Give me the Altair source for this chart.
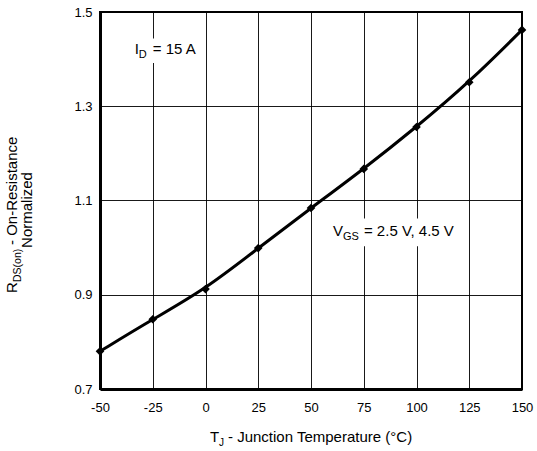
import altair as alt
import pandas as pd

# ---- data ----
temps = [-50, -25, 0, 25, 50, 75, 100, 125, 150]
rds_norm = [0.780, 0.848, 0.912, 0.999, 1.084, 1.167, 1.256, 1.351, 1.462]

x_ticks = [-50, -25, 0, 25, 50, 75, 100, 125, 150]
y_ticks = [0.7, 0.9, 1.1, 1.3, 1.5]

# annotation anchors (data coordinates) and their white backgrounds
id_anchor_T = [-33.5]
id_anchor_R = [1.411]
id_box_T = [-36.0, -2.0]
id_box_R = [1.444, 1.392]

vgs_anchor_T = [60.4]
vgs_anchor_R = [1.024]
vgs_box_T = [58.5, 122.0]
vgs_box_R = [1.062, 1.003]

FONT = "Liberation Sans"
W, H = 422, 377

df = pd.DataFrame({"T": temps, "R": rds_norm})

xs = alt.Scale(domain=[-50, 150], nice=False, zero=False)
ys = alt.Scale(domain=[0.7, 1.5], nice=False, zero=False)

x_axis = alt.Axis(values=x_ticks, title=None, grid=True, ticks=False,
                  labelExpr="replace(datum.label, '\u2212', '-')",
                  domainWidth=3, domainColor="black",
                  gridColor="black", gridWidth=1, gridOpacity=0.9,
                  labelFont=FONT, labelFontSize=13, labelColor="black",
                  labelPadding=12, labelFlush=False, labelOverlap=False)
y_axis = alt.Axis(values=y_ticks, title=None, grid=True, ticks=False, format=".1f",
                  domainWidth=3, domainColor="black",
                  gridColor="black", gridWidth=1, gridOpacity=0.9,
                  labelFont=FONT, labelFontSize=13, labelColor="black",
                  labelPadding=8, labelFlush=False, labelOverlap=False)


def X(field="T"):
    return alt.X(f"{field}:Q", scale=xs, axis=x_axis)


def Y(field="R"):
    return alt.Y(f"{field}:Q", scale=ys, axis=y_axis)


curve = alt.Chart(df).mark_line(color="black", strokeWidth=3, interpolate="basis").encode(
    x=X(), y=Y())
pts = alt.Chart(df).mark_point(shape="diamond", filled=True, color="black", size=75, opacity=1).encode(
    x=X(), y=Y())

# white boxes behind annotations
boxes = pd.DataFrame({
    "T": [id_box_T[0], vgs_box_T[0]], "T2": [id_box_T[1], vgs_box_T[1]],
    "R": [id_box_R[0], vgs_box_R[0]], "R2": [id_box_R[1], vgs_box_R[1]],
})
box_layer = alt.Chart(boxes).mark_rect(color="white").encode(
    x=X(), x2="T2:Q", y=Y(), y2="R2:Q")

id_df = pd.DataFrame({"T": id_anchor_T, "R": id_anchor_R})
vgs_df = pd.DataFrame({"T": vgs_anchor_T, "R": vgs_anchor_R})


def piece(data, text, size, dx=0, dy=0):
    return alt.Chart(data).mark_text(text=text, font=FONT, fontSize=size, color="black",
                                     align="left", baseline="alphabetic", dx=dx, dy=dy).encode(
        x=X(), y=Y())


ann = [
    piece(id_df, "I", 15, 0, 0),
    piece(id_df, "D", 11, 4, 4),
    piece(id_df, "= 15 A", 15, 18, 0),
    piece(vgs_df, "V", 15, 0, 0),
    piece(vgs_df, "GS", 11, 10, 4),
    piece(vgs_df, "= 2.5 V, 4.5 V", 15, 31, 0),
]

one = pd.DataFrame({"a": [0]})


def ptext(text, size, px, py, dx=0, dy=0, angle=0, align="left"):
    return alt.Chart(one).mark_text(text=text, font=FONT, fontSize=size, color="black",
                                    align=align, baseline="alphabetic", dx=dx, dy=dy,
                                    angle=angle).encode(x=alt.value(px), y=alt.value(py))


titles = [
    # x title: T_J - Junction Temperature (°C)
    ptext("T", 15, 110, 430),
    ptext("J", 10, 110, 430, dx=9, dy=4),
    ptext("- Junction Temperature (°C)", 15, 110, 430, dx=18),
    # y title line 1: R_DS(on) - On-Resistance  (rotated)
    ptext("R", 15, -83, 281, angle=270),
    ptext("DS(on)", 10.5, -83, 281, dx=11, dy=3.5, angle=270),
    ptext("- On-Resistance", 15, -83, 281, dx=48, angle=270),
    # y title line 2
    ptext("Normalized", 15, -68, 198, angle=270, align="center"),
]

chart = alt.layer(curve, box_layer, pts, *ann, *titles).properties(
    width=W, height=H,
    autosize=alt.AutoSizeParams(type="none"),
    padding={"left": 100, "top": 12, "right": 15, "bottom": 62},
    background="white",
).configure_view(stroke="black", strokeWidth=2)

chart.save("out.html", embed_options={"renderer": "svg", "actions": False})
